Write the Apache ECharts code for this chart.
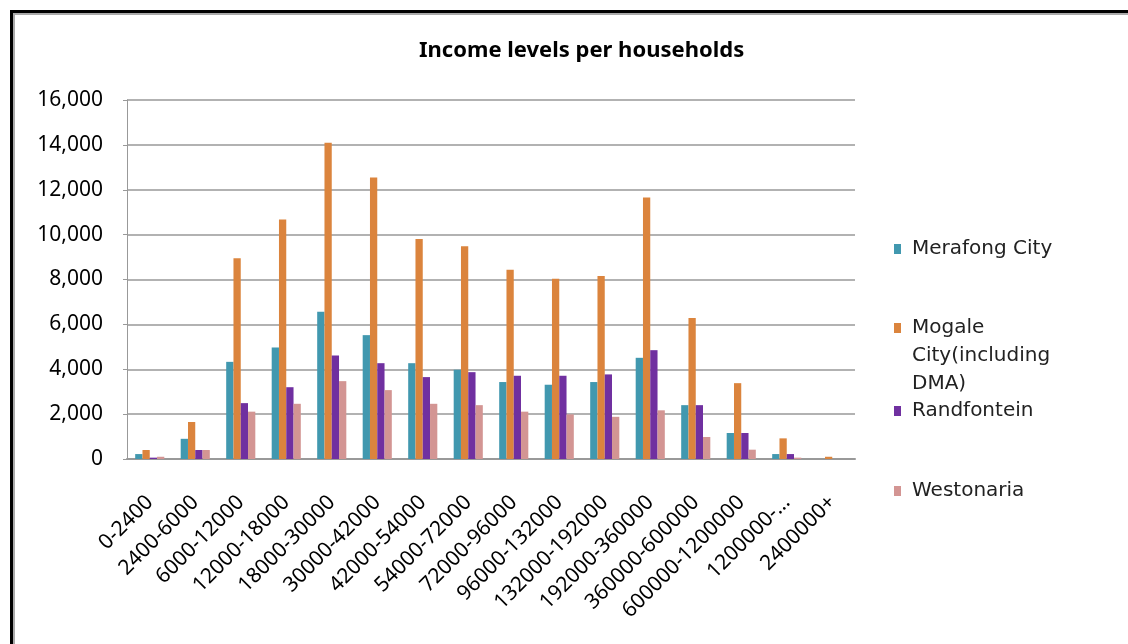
<!DOCTYPE html>
<html>
<head>
<meta charset="utf-8">
<script src="https://cdn.jsdelivr.net/npm/echarts@6/dist/echarts.min.js"></script>
<style>
  html, body { margin: 0; padding: 0; background: #fff; }
  #chart { width: 1128px; height: 644px; }
</style>
</head>
<body>
<div id="chart"></div>
<script>
var incomeBands = ['0-2400', '2400-6000', '6000-12000', '12000-18000', '18000-30000',
    '30000-42000', '42000-54000', '54000-72000', '72000-96000', '96000-132000',
    '132000-192000', '192000-360000', '360000-600000', '600000-1200000',
    '1200000-…', '2400000+'];

var merafong    = [220, 900, 4330, 4970, 6560, 5520, 4270, 3980, 3430, 3310, 3430, 4510, 2400, 1160, 220, 0];
var mogale      = [400, 1650, 8950, 10670, 14100, 12550, 9810, 9480, 8440, 8030, 8160, 11650, 6280, 3380, 920, 100];
var randfontein = [60, 400, 2490, 3200, 4610, 4270, 3650, 3870, 3710, 3710, 3770, 4850, 2400, 1160, 220, 0];
var westonaria  = [100, 400, 2110, 2460, 3470, 3070, 2460, 2400, 2110, 1990, 1880, 2170, 980, 415, 60, 0];

var seriesNames = ['Merafong City', 'Mogale City(including DMA)', 'Randfontein', 'Westonaria'];
var seriesColors = ['#4198AF', '#DB843D', '#7030A0', '#D39593'];
var seriesValues = [merafong, mogale, randfontein, westonaria];

var chart = echarts.init(document.getElementById('chart'));

// one legend per entry so they sit where excel put them.
// the mogale label gets two blank lines on top so the swatch lines up with its first line
var legendTops = [235, 258, 397, 477];
var legends = seriesNames.map(function (name, i) {
    return {
        data: [name],
        orient: 'vertical',
        left: 894,
        top: legendTops[i],
        padding: 0,
        itemWidth: 7,
        itemHeight: 10,
        icon: 'rect',
        selectedMode: false,
        formatter: function (n) {
            return n === 'Mogale City(including DMA)' ? '\n\nMogale\nCity(including\nDMA)' : n;
        },
        textStyle: {
            fontFamily: 'DejaVu Sans',
            fontSize: 20,
            color: '#222',
            lineHeight: 28,
            padding: [0, 0, 0, 6]
        }
    };
});

var option = {
    animation: false,
    backgroundColor: '#fff',
    title: {
        text: 'Income levels per households',
        left: 414,
        top: 35,
        textStyle: {
            fontFamily: 'Noto Sans',
            fontSize: 22,
            fontWeight: 'bold',
            color: '#000'
        }
    },
    legend: legends,
    grid: {
        left: 127,
        right: 273,
        top: 100,
        bottom: 185
    },
    xAxis: {
        type: 'category',
        data: incomeBands,
        axisLine: { lineStyle: { color: '#999', width: 2 } },
        axisTick: { show: false },
        axisLabel: {
            rotate: 45,
            margin: 40,
            interval: 0,
            fontFamily: 'Noto Sans',
            fontSize: 21,
            color: '#000'
        }
    },
    yAxis: {
        type: 'value',
        min: 0,
        max: 16000,
        interval: 2000,
        axisLine: { show: true, lineStyle: { color: '#999', width: 1 } },
        axisTick: { show: true, length: 4, lineStyle: { color: '#999' } },
        splitLine: { lineStyle: { color: '#999', width: 1.5 } },
        axisLabel: {
            margin: 24,
            fontFamily: 'Noto Sans',
            fontSize: 21,
            color: '#000',
            formatter: function (v) { return v.toLocaleString('en-US'); }
        }
    },
    series: seriesNames.map(function (name, i) {
        return {
            type: 'bar',
            name: name,
            data: seriesValues[i],
            barGap: '0%',
            barCategoryGap: '36%',
            itemStyle: { color: seriesColors[i] }
        };
    }),
    graphic: [
        { type: 'rect', shape: { x: 10, y: 10, width: 1118, height: 3 }, style: { fill: '#000' } },
        { type: 'rect', shape: { x: 13, y: 13, width: 1115, height: 2 }, style: { fill: '#aaa' } },
        { type: 'rect', shape: { x: 10, y: 10, width: 3, height: 634 }, style: { fill: '#000' } },
        { type: 'rect', shape: { x: 13, y: 13, width: 2, height: 631 }, style: { fill: '#aaa' } }
    ]
};

chart.setOption(option);
</script>
</body>
</html>
